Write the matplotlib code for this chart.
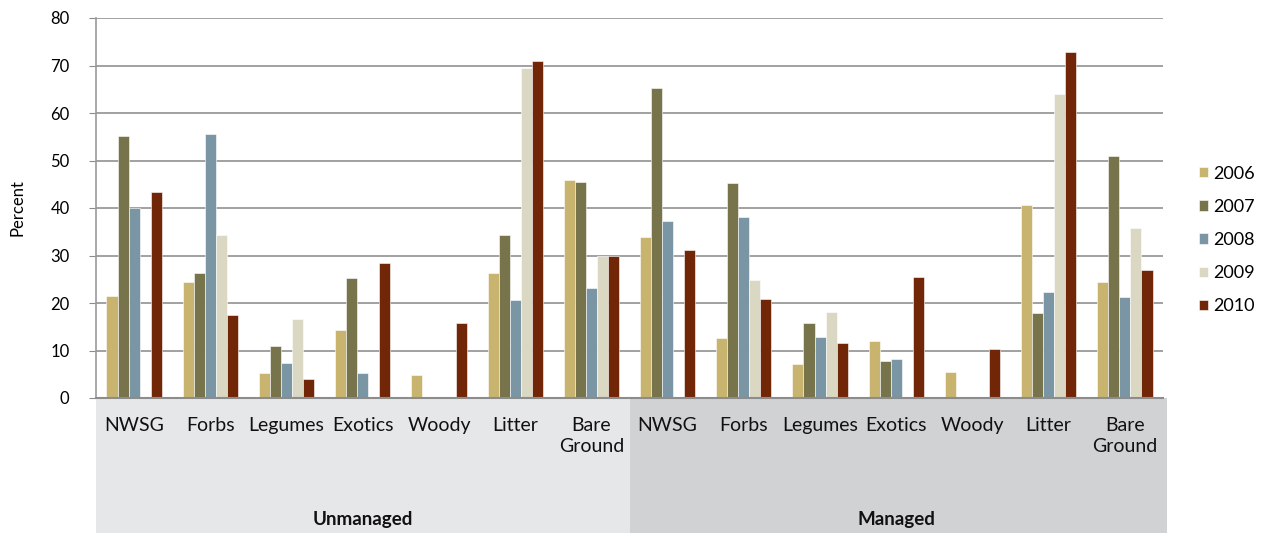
import matplotlib
matplotlib.use("Agg")
import matplotlib.pyplot as plt
import matplotlib.transforms as mtransforms
from matplotlib.patches import Rectangle
import numpy as np

plt.rcParams['font.family'] = ['Lato', 'DejaVu Sans']

categories = ["NWSG", "Forbs", "Legumes", "Exotics", "Woody", "Litter", "Bare\nGround"]
groups = ["Unmanaged", "Managed"]
years = ["2006", "2007", "2008", "2009", "2010"]
colors = ["#C8B46E", "#77734A", "#7A95A3", "#DAD7C3", "#722608"]

# Percent cover by year; each list runs over the 7 categories
unmanaged = {
    "2006": [21.5, 24.4, 5.2, 14.4, 4.9, 26.3, 45.8],
    "2007": [55.2, 26.3, 10.9, 25.2, 0.0, 34.3, 45.5],
    "2008": [40.1, 55.5, 7.4, 5.2, 0.0, 20.6, 23.2],
    "2009": [0.0, 34.3, 16.6, 0.0, 0.0, 69.5, 30.0],
    "2010": [43.4, 17.4, 4.1, 28.4, 15.8, 71.0, 29.8],
}
managed = {
    "2006": [34.0, 12.6, 7.1, 12.0, 5.5, 40.6, 24.4],
    "2007": [65.2, 45.3, 15.8, 7.8, 0.0, 17.8, 51.0],
    "2008": [37.3, 38.1, 12.9, 8.3, 0.3, 22.3, 21.2],
    "2009": [0.0, 24.9, 18.1, 0.0, 0.0, 64.1, 35.8],
    "2010": [31.2, 20.9, 11.5, 25.5, 10.4, 72.9, 27.0],
}

W, H = 1267, 533
fig = plt.figure(figsize=(W / 100, H / 100), dpi=100)
ax = fig.add_axes([96 / W, 1 - 398 / H, (1163 - 96) / W, (398 - 18) / H])

n_cat = len(categories)
x = np.arange(2 * n_cat)
bw = 0.145
for i, yr in enumerate(years):
    vals = unmanaged[yr] + managed[yr]
    ax.bar(x + (i - 2) * bw, vals, width=bw, color=colors[i],
           edgecolor="white", linewidth=0.4, label=yr, zorder=3)

ax.set_xlim(-0.5, 2 * n_cat - 0.5)
ax.set_ylim(0, 80)
ax.set_yticks(np.arange(0, 81, 10))
ax.tick_params(axis="y", labelsize=12, length=5, color="#8c8c8c", pad=14)
ax.tick_params(axis="x", bottom=False, labelbottom=False)
ax.yaxis.grid(True, color="#9a9a9a", linewidth=1.3, zorder=0)
ax.set_axisbelow(True)
for s in ["top", "right"]:
    ax.spines[s].set_visible(False)
ax.spines["left"].set_color("#9a9a9a")
ax.spines["left"].set_linewidth(1.2)
ax.spines["bottom"].set_color("#8c8c8c")
ax.spines["bottom"].set_linewidth(1.5)
ax.spines["bottom"].set_zorder(4)
ax.set_ylabel("Percent", fontsize=12, labelpad=18)

# Shaded category bands under the axis
trans = mtransforms.blended_transform_factory(ax.transData, ax.transAxes)
band_h = (533 - 398) / (398 - 18)
ax.add_patch(Rectangle((-0.5, -band_h), n_cat, band_h, transform=trans,
                       facecolor="#E6E7E8", edgecolor="none", clip_on=False, zorder=1))
ax.add_patch(Rectangle((n_cat - 0.5, -band_h), n_cat + 0.05, band_h, transform=trans,
                       facecolor="#D1D2D4", edgecolor="none", clip_on=False, zorder=1))

px = 1 / (398 - 18)
for g in range(2):
    for j, c in enumerate(categories):
        ax.text(g * n_cat + j, -(417 - 398) * px, c, transform=trans,
                ha="center", va="top", fontsize=14, linespacing=1.3, color="#111111")
    ax.text(g * n_cat + (n_cat - 1) / 2, -(519 - 398) * px, groups[g], transform=trans,
            ha="center", va="center", fontsize=13.5, fontweight="bold", color="#111111")

fig.legend(loc="center left", bbox_to_anchor=(1199 / W, 1 - 240 / H), frameon=False,
           fontsize=13, handlelength=0.5, handleheight=0.5, handletextpad=0.3,
           labelspacing=0.95, borderpad=0, borderaxespad=0)

fig.savefig("out.png", dpi=100)
